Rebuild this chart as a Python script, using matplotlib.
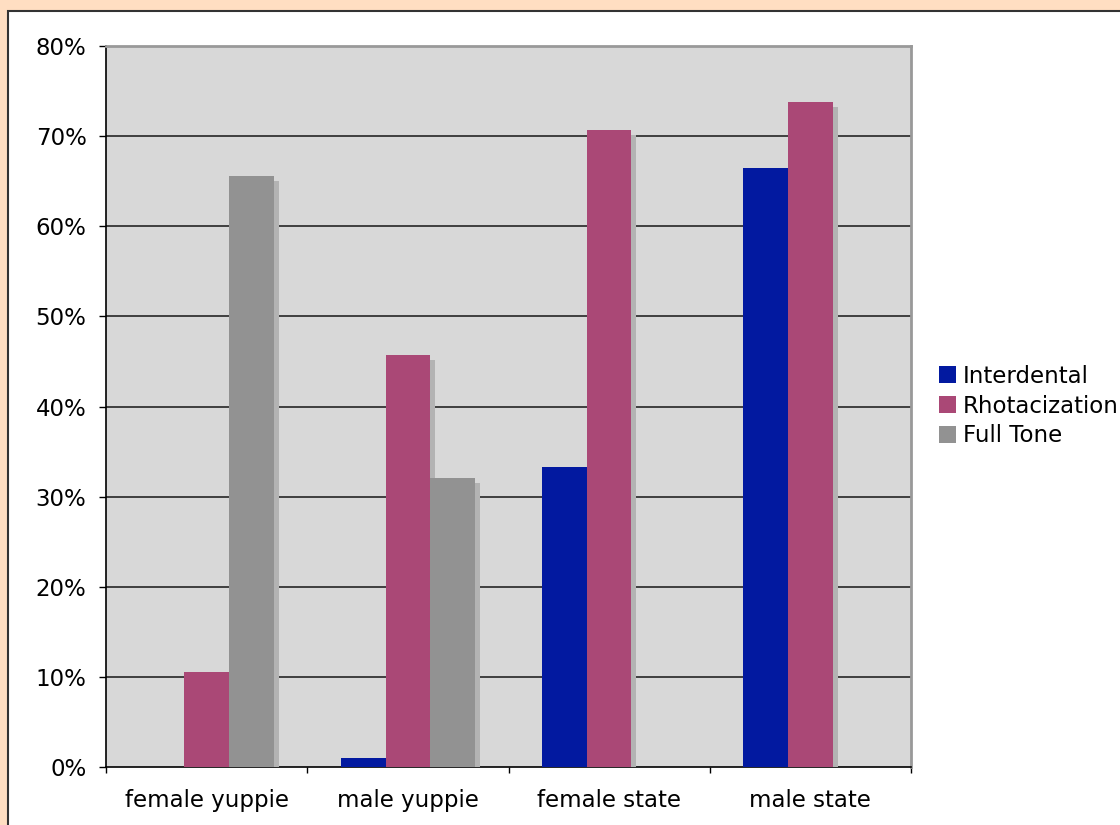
import matplotlib
matplotlib.use('Agg')
import matplotlib.pyplot as plt
import matplotlib.patheffects as pe
from matplotlib.patches import Rectangle, Patch
from matplotlib.ticker import FuncFormatter
import numpy as np

# survey results, share of speakers using each feature
groups = ['female yuppie', 'male yuppie', 'female state', 'male state']
interdental = [0.0, 1.0, 33.3, 66.5]
rhotacization = [10.5, 45.7, 70.7, 73.8]
full_tone = [65.6, 32.1, 0.0, 0.0]

series = [('Interdental', interdental, '#0219A0'),
          ('Rhotacization', rhotacization, '#AA4876'),
          ('Full Tone', full_tone, '#929292')]

plt.rcParams['font.family'] = 'DejaVu Sans'
plt.rcParams['font.size'] = 16.5

fig = plt.figure(figsize=(11.2, 8.25), dpi=100, facecolor='#FFDEC2')

# white chart area with dark border
frame = Rectangle((8 / 1120, -0.1), 2, 1 - 11 / 825 + 0.1, transform=fig.transFigure,
                  facecolor='white', edgecolor='#333333', linewidth=1.5, zorder=-10)
fig.patches.append(frame)

ax = fig.add_axes([106 / 1120, 1 - 767 / 825, (911 - 106) / 1120, (767 - 46) / 825])
ax.set_facecolor('#D8D8D8')

x = np.arange(len(groups))
w = 1 / 4.5
shadow = [pe.SimplePatchShadow(offset=(3.6, -3.6), shadow_rgbFace='#B3B3B3', alpha=1.0), pe.Normal()]

for i, (name, vals, col) in enumerate(series):
    ax.bar(x + (i - 1) * w, np.array(vals) / 100, width=w, color=col, label=name,
           path_effects=shadow, zorder=3, linewidth=0)

ax.set_xlim(-0.5, len(groups) - 0.5)
ax.set_ylim(0, 0.8)
ax.set_yticks(np.arange(0, 0.81, 0.1))
ax.yaxis.set_major_formatter(FuncFormatter(lambda v, p: f'{v * 100:.0f}%'))
ax.tick_params(axis='y', length=5, width=1, pad=9, direction='out', colors='black')

ax.set_xticks(x)
ax.set_xticklabels(groups)
ax.tick_params(axis='x', which='major', length=0, pad=16)
ax.set_xticks(np.arange(-0.5, len(groups)), minor=True)
ax.tick_params(axis='x', which='minor', length=4, width=1, direction='out', color='black')

ax.set_axisbelow(True)
for v in np.arange(0.1, 0.75, 0.1):
    ax.axhline(v, color='#333333', linewidth=1.3, zorder=1)

ax.spines['left'].set_color('black')
ax.spines['bottom'].set_color('black')
ax.spines['left'].set_linewidth(1.2)
ax.spines['bottom'].set_linewidth(1.2)
ax.spines['top'].set_color('#999999')
ax.spines['right'].set_color('#999999')
ax.spines['top'].set_linewidth(2)
ax.spines['right'].set_linewidth(2)

handles = [Patch(facecolor=col, edgecolor='none', label=name) for name, vals, col in series]
fig.legend(handles=handles, loc='center left', bbox_to_anchor=(939 / 1120, 1 - 406 / 825),
           frameon=False, handlelength=0.75, handleheight=0.75, handletextpad=0.3,
           labelspacing=0.3, fontsize=16.5, borderaxespad=0, borderpad=0)

fig.savefig('out.png', dpi=100, facecolor=fig.get_facecolor())
